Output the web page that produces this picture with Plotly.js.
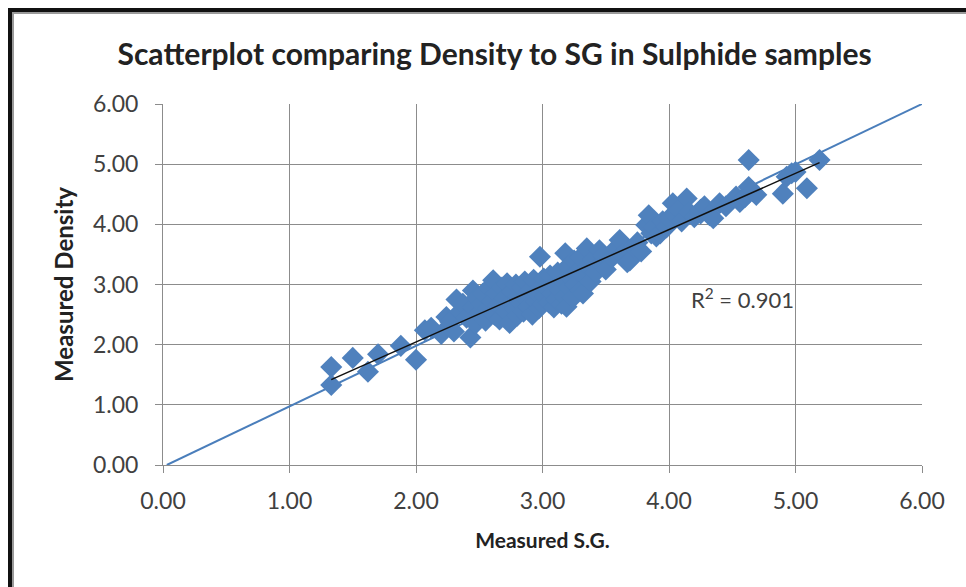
<!DOCTYPE html>
<html>
<head>
<meta charset="utf-8">
<script src="https://cdn.plot.ly/plotly-3.0.1.min.js"></script>
<style>
  html, body { margin: 0; padding: 0; background: #ffffff; width: 966px; height: 587px; overflow: hidden; }
  #chart { position: absolute; left: 0; top: 0; width: 966px; height: 587px; }
  #frame { position: absolute; left: 8px; top: 8px; width: 980px; height: 600px;
           border-left: 4px solid #111; border-top: 4px solid #111;
           box-shadow: inset 2px 2px 0 #9a9a9a; pointer-events: none; }
</style>
</head>
<body>
<div id="chart"></div>
<div id="frame"></div>
<script>
// Measured S.G. (x) and Measured Density (y)
const measuredSG = [
  1.33,1.33,1.50,1.62,1.70,1.88,2.00,2.07,2.12,2.20,2.24,2.27,2.30,2.32,2.35,2.37,2.40,2.43,2.45,2.45,
  2.47,2.48,2.50,2.52,2.53,2.55,2.57,2.58,2.60,2.61,2.62,2.63,2.65,2.66,2.68,2.70,2.71,2.72,2.74,2.75,
  2.76,2.78,2.79,2.80,2.81,2.83,2.84,2.85,2.86,2.88,2.89,2.90,2.92,2.93,2.95,2.96,2.97,2.98,2.99,3.00,
  3.01,3.02,3.04,3.05,3.06,3.08,3.09,3.10,3.11,3.12,3.14,3.15,3.16,3.18,3.18,3.19,3.20,3.21,3.22,3.24,
  3.25,3.26,3.28,3.30,3.30,3.32,3.33,3.35,3.36,3.38,3.40,3.42,3.45,3.46,3.48,3.50,3.55,3.58,3.61,3.63,
  3.67,3.69,3.72,3.75,3.78,3.82,3.84,3.86,3.88,3.90,3.93,3.95,3.98,4.00,4.03,4.05,4.08,4.10,4.14,4.16,
  4.20,4.25,4.25,4.28,4.32,4.35,4.40,4.45,4.53,4.56,4.60,4.63,4.63,4.66,4.69,4.90,4.93,4.97,5.00,5.09,
  5.19
];
const measuredDensity = [
  1.63,1.33,1.78,1.55,1.84,1.98,1.75,2.24,2.28,2.18,2.46,2.38,2.22,2.75,2.55,2.68,2.45,2.12,2.90,2.62,
  2.35,2.78,2.52,2.68,2.85,2.40,2.60,2.95,2.72,3.07,2.50,2.85,2.65,2.42,2.95,2.78,2.55,3.02,2.36,2.70,
  2.88,2.60,3.00,2.48,2.80,2.68,2.95,2.55,3.05,2.75,2.62,2.90,2.50,3.08,2.72,2.85,2.60,3.46,2.95,2.68,
  3.10,2.80,2.92,2.70,3.15,2.85,2.62,3.00,2.75,3.20,2.90,2.68,3.05,3.52,2.80,2.63,3.30,2.95,3.12,2.78,
  3.40,3.00,3.22,3.45,2.90,2.85,3.15,3.60,3.30,3.05,3.42,3.20,3.57,3.35,3.48,3.25,3.45,3.60,3.74,3.50,
  3.37,3.40,3.62,3.70,3.55,3.99,4.15,3.85,3.95,3.80,3.85,4.05,3.95,4.10,4.35,4.15,4.25,4.05,4.43,4.20,
  4.12,4.18,4.24,4.30,4.15,4.10,4.35,4.30,4.46,4.37,4.45,5.07,4.62,4.55,4.49,4.51,4.79,4.85,4.87,4.60,
  5.07
];
// 1:1 reference line
const refLineX = [0.03, 6];
const refLineY = [0, 6];
const rSquaredLabel = "R<sup>2</sup> = 0.901";
const tickValues = [0, 1, 2, 3, 4, 5, 6];
const tickLabels = ["0.00", "1.00", "2.00", "3.00", "4.00", "5.00", "6.00"];

// least-squares trendline from the data
const n = measuredSG.length;
const mx = measuredSG.reduce((a, b) => a + b, 0) / n;
const my = measuredDensity.reduce((a, b) => a + b, 0) / n;
let sxy = 0, sxx = 0;
for (let i = 0; i < n; i++) { sxy += (measuredSG[i] - mx) * (measuredDensity[i] - my); sxx += (measuredSG[i] - mx) ** 2; }
const slope = sxy / sxx, intercept = my - slope * mx;
const xMin = Math.min(...measuredSG), xMax = Math.max(...measuredSG);
const trendX = [xMin, xMax];
const trendY = trendX.map(v => intercept + slope * v);

const blue = '#4a7ebb';
const gridCol = '#8c8c8c';
const traces = [
  { x: refLineX, y: refLineY, mode: 'lines', line: { color: blue, width: 2 }, hoverinfo: 'skip', showlegend: false },
  { x: measuredSG, y: measuredDensity, mode: 'markers', type: 'scatter',
    marker: { symbol: 'diamond', size: 17, color: '#4f81bd', line: { width: 0 } }, showlegend: false },
  { x: trendX, y: trendY, mode: 'lines', line: { color: '#111111', width: 1.5 }, hoverinfo: 'skip', showlegend: false }
];

const axisCommon = {
  range: [0, 6], tickvals: tickValues, ticktext: tickLabels,
  showgrid: true, gridcolor: gridCol, gridwidth: 1,
  showline: true, linecolor: gridCol, linewidth: 1,
  ticks: 'outside', ticklen: 7, tickcolor: gridCol,
  zeroline: false, fixedrange: true,
  tickfont: { family: 'Lato, sans-serif', size: 23, color: '#404040' }
};

const layout = {
  width: 966, height: 587,
  margin: { l: 163, r: 44, t: 104, b: 122 },
  paper_bgcolor: 'rgba(0,0,0,0)', plot_bgcolor: '#ffffff',
  title: { text: 'Scatterplot comparing Density to SG in Sulphide samples',
           font: { family: 'Lato, sans-serif', size: 30, color: '#222222', weight: 'bold' },
           x: 0.512, xanchor: 'center', y: 0.907, yanchor: 'middle' },
  xaxis: Object.assign({}, axisCommon, {
    ticklabelstandoff: 8,
    title: { text: 'Measured S.G.', font: { family: 'Lato, sans-serif', size: 21, color: '#222222', weight: 'bold' }, standoff: 20 }
  }),
  yaxis: Object.assign({}, axisCommon, {
    ticklabelstandoff: 12,
    title: { text: 'Measured Density', font: { family: 'Lato, sans-serif', size: 24, color: '#222222', weight: 'bold' }, standoff: 12 }
  }),
  annotations: [{ x: 4.58, y: 2.77, xref: 'x', yref: 'y', text: rSquaredLabel, showarrow: false,
                  font: { family: 'Lato, sans-serif', size: 22, color: '#404040' } }],
  showlegend: false
};

Plotly.newPlot('chart', traces, layout, { displayModeBar: false, staticPlot: true });
</script>
</body>
</html>
